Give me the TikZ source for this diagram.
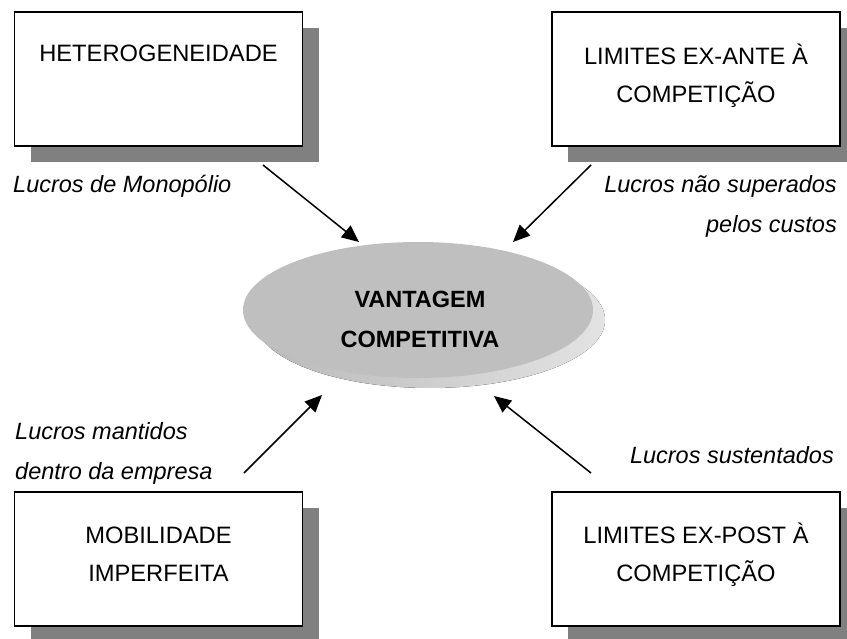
\documentclass[tikz,border=0pt]{standalone}
\usepackage{fontspec}
\setmainfont{Liberation Sans}
\usetikzlibrary{shapes.geometric,shadows,arrows.meta}
\begin{document}
\begin{tikzpicture}[x=1pt,y=-1pt,
  box/.style={draw=black, line width=1.6pt, fill=white, minimum width=288pt,
    minimum height=134pt, inner sep=0pt,
    drop shadow={shadow xshift=16pt, shadow yshift=-16pt, fill=gray, opacity=1, draw=none}},
  boxtext/.style={font=\fontsize{23.7}{37.5}\selectfont, align=center, inner sep=0pt, anchor=base},
  ell/.style={ellipse, draw=none, fill=gray!50, minimum width=350pt, minimum height=136pt, inner sep=0pt},
  elltext/.style={font=\bfseries\fontsize{23.5}{40}\selectfont, align=center, inner sep=0pt, anchor=base},
  lbl/.style={font=\itshape\fontsize{23.5}{40}\selectfont, inner sep=0pt},
  arr/.style={line width=1.5pt, -{Triangle[length=17pt,width=15pt]}}
]
\useasboundingbox (0,0) rectangle (847,639);
\fill[white] (0,0) rectangle (847,639);

% boxes
\node[box] (b1) at (158.5,79) {};
\node[box] (b2) at (696,79) {};
\node[box] (b3) at (158.5,559) {};
\node[box] (b4) at (696,559) {};

% multi-line nodes: base anchor is at the baseline of the last line
\node[boxtext] (t1) at (158.5,62) {HETEROGENEIDADE};
\node[boxtext] (t2) at (696,102.5) {LIMITES EX-ANTE À\\COMPETIÇÃO};
\node[boxtext] (t3) at (158.5,581) {MOBILIDADE\\IMPERFEITA};
\node[boxtext] (t4) at (696,581) {LIMITES EX-POST À\\COMPETIÇÃO};

% central ellipse with shaded shadow
\fill[left color=gray!55, right color=gray!22] (430,320) ellipse [x radius=175, y radius=68];
\node[ell] (vc) at (418,310) {};
\node[elltext] (vct) at (420,348) {VANTAGEM\\COMPETITIVA};

% labels
\node[lbl, anchor=base west] (l1) at (13,193) {Lucros de Monopólio};
\node[lbl, anchor=base east, align=right] (l2) at (837,233) {Lucros não superados\\pelos custos};
\node[lbl, anchor=base west, align=left] (l3) at (15,479) {Lucros mantidos\\dentro da empresa};
\node[lbl, anchor=base east] (l4) at (834,463) {Lucros sustentados};

% arrows
\coordinate (a1s) at (263,165); \coordinate (a1e) at (359,242);
\coordinate (a2s) at (591,165); \coordinate (a2e) at (513,242);
\coordinate (a3s) at (244,473); \coordinate (a3e) at (322,395);
\coordinate (a4s) at (591,473); \coordinate (a4e) at (494,396);
\draw[arr] (a1s) -- (a1e);
\draw[arr] (a2s) -- (a2e);
\draw[arr] (a3s) -- (a3e);
\draw[arr] (a4s) -- (a4e);
\end{tikzpicture}
\end{document}
